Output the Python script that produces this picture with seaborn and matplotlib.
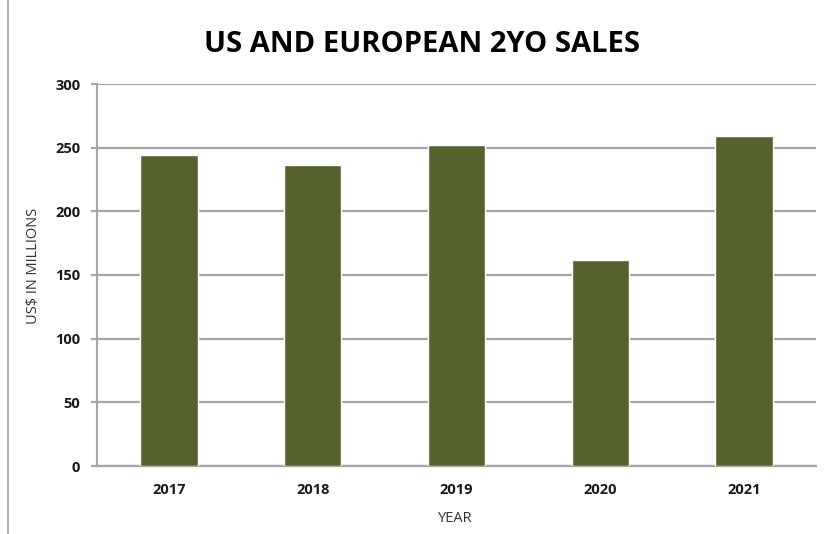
import matplotlib
matplotlib.use("Agg")
import matplotlib.pyplot as plt
import seaborn as sns
import pandas as pd
from matplotlib.lines import Line2D

years = ["2017", "2018", "2019", "2020", "2021"]
sales = [244, 236, 252, 162, 259]
y_ticks = [0, 50, 100, 150, 200, 250, 300]

sns.set_theme(style="white")
plt.rcParams['font.family'] = ['Open Sans', 'DejaVu Sans']

df = pd.DataFrame({"year": years, "sales": sales})

fig = plt.figure(figsize=(8.26, 5.34), dpi=100)
ax = fig.add_axes([97/826, 1 - 466/534, (816 - 97)/826, (466 - 84)/534])

ax.yaxis.grid(True, color="#a6a6a6", linewidth=1.6, zorder=0)
ax.set_axisbelow(True)
sns.barplot(data=df, x="year", y="sales", color="#55622b", saturation=1,
            width=0.40, ax=ax, zorder=3)

ax.set_ylim(0, 300)
ax.set_yticks(y_ticks)
ax.set_xlim(-0.5, 4.5)
for s in ["top", "right"]:
    ax.spines[s].set_visible(False)
for s in ["left", "bottom"]:
    ax.spines[s].set_color("#a6a6a6")
    ax.spines[s].set_linewidth(1.6)
ax.tick_params(axis="y", which="major", left=True, length=4, width=1.6,
               color="#a6a6a6", pad=8, labelsize=10.5)
ax.tick_params(axis="x", bottom=False, pad=6, labelsize=10.5)
for lab in ax.get_xticklabels() + ax.get_yticklabels():
    lab.set_fontweight("bold")
    lab.set_color("#1a1a1a")

ax.set_xlabel("")
ax.set_ylabel("")
fig.text(455/826, 1 - 518/534, "YEAR", ha="center", va="center",
         fontsize=10.5, color="#333333")
fig.text(33/826, 1 - 266/534, "US$ IN MILLIONS", ha="center", va="center",
         rotation=90, fontsize=10.5, color="#333333")
fig.text(422/826, 1 - 44/534, "US AND EUROPEAN 2YO SALES", ha="center",
         va="center", fontsize=21, fontweight="bold", color="#000000")

fig.add_artist(Line2D([8/826, 8/826], [0, 1], transform=fig.transFigure,
                      color="#a6a6a6", linewidth=1.2))

fig.savefig("out.png", dpi=100)
